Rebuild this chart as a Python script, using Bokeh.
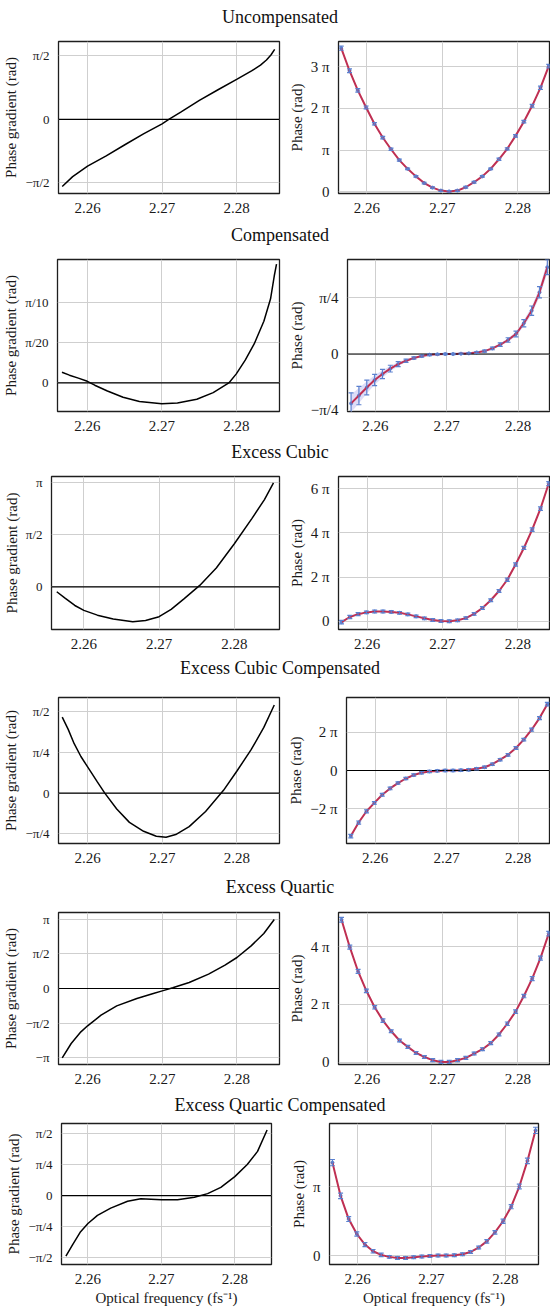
from bokeh.plotting import figure
from bokeh.models import Range1d, FixedTicker, Span, Whisker, TeeHead, ColumnDataSource, Div
from bokeh.layouts import column, row
from bokeh.embed import file_html
from bokeh.resources import INLINE

FONT = "Liberation Serif"
RED = "#bf2f52"
BLUE = "#5b80cf"
BAND = "#d9d9f6"
GRID = "#cfcfcf"

titles = ["Uncompensated", "Compensated", "Excess Cubic",
          "Excess Cubic Compensated", "Excess Quartic", "Excess Quartic Compensated"]

x_ticks = [2.26, 2.27, 2.28]
x_tick_labels = ["2.26", "2.27", "2.28"]

# measured frequencies (fs^-1) of the phase points
freq = [2.2566, 2.2577, 2.2588, 2.2599, 2.2610, 2.2621, 2.2632, 2.2643, 2.2654,
        2.2665, 2.2676, 2.2687, 2.2698, 2.2709, 2.2720, 2.2731, 2.2742, 2.2753,
        2.2764, 2.2775, 2.2786, 2.2797, 2.2808, 2.2819, 2.2830, 2.2841]

# ---- phase gradient curves (units of pi rad) ----
unc_grad_x = [2.2566, 2.2580, 2.2600, 2.2625, 2.2650, 2.2675, 2.2700, 2.2709, 2.2725,
              2.2750, 2.2775, 2.2800, 2.2820, 2.2832, 2.2840, 2.2846, 2.2851]
unc_grad_y = [-0.528, -0.450, -0.368, -0.287, -0.199, -0.113, -0.034, 0.0, 0.058,
              0.150, 0.234, 0.315, 0.382, 0.428, 0.468, 0.508, 0.552]

comp_grad_x = [2.2566, 2.2576, 2.2588, 2.2600, 2.2610, 2.2627, 2.2648, 2.2670, 2.2700,
               2.2721, 2.2747, 2.2769, 2.2790, 2.2800, 2.2812, 2.2824, 2.2837, 2.2846,
               2.2851, 2.2854]
comp_grad_y = [0.0133, 0.0096, 0.0060, 0.0020, -0.0028, -0.0100, -0.0177, -0.0229, -0.0257,
               -0.0249, -0.0201, -0.0120, 0.0, 0.0112, 0.0281, 0.0482, 0.0763, 0.104,
               0.1325, 0.147]

cubic_grad_x = [2.2564, 2.2575, 2.2588, 2.2600, 2.2618, 2.2639, 2.2665, 2.2682, 2.2700,
                2.2716, 2.2733, 2.2754, 2.2776, 2.2800, 2.2823, 2.2840, 2.2852]
cubic_grad_y = [-0.046, -0.108, -0.178, -0.225, -0.271, -0.308, -0.335, -0.323, -0.286,
                -0.215, -0.114, 0.015, 0.182, 0.415, 0.655, 0.84, 1.0]

cubic_comp_grad_x = [2.2566, 2.2574, 2.2582, 2.2591, 2.2600, 2.2613, 2.2623, 2.2639, 2.2656,
                     2.2675, 2.2692, 2.2705, 2.2718, 2.2736, 2.2758, 2.2782, 2.2800, 2.2819,
                     2.2836, 2.2850]
cubic_comp_grad_y = [0.467, 0.392, 0.304, 0.225, 0.161, 0.069, 0.0, -0.098, -0.180,
                     -0.235, -0.265, -0.271, -0.255, -0.206, -0.113, 0.017, 0.136, 0.267,
                     0.404, 0.542]

quart_grad_x = [2.2566, 2.2578, 2.2591, 2.2600, 2.2618, 2.2639, 2.2666, 2.2688, 2.2700,
                2.2714, 2.2736, 2.2762, 2.2784, 2.2800, 2.2819, 2.2836, 2.2850]
quart_grad_y = [-1.0, -0.793, -0.625, -0.538, -0.385, -0.25, -0.144, -0.072, -0.034,
                0.01, 0.087, 0.207, 0.337, 0.447, 0.615, 0.793, 0.995]

quart_comp_grad_x = [2.2570, 2.2579, 2.2590, 2.2600, 2.2613, 2.2631, 2.2654, 2.2672, 2.2700,
                     2.2722, 2.2745, 2.2763, 2.2781, 2.2800, 2.2817, 2.2831, 2.2844]
quart_comp_grad_y = [-0.489, -0.397, -0.291, -0.225, -0.159, -0.101, -0.045, -0.026, -0.034,
                     -0.034, -0.013, 0.016, 0.066, 0.153, 0.251, 0.357, 0.529]

# ---- retrieved phase (units of pi rad) and error bars ----
unc_phase = [3.44, 2.90, 2.43, 2.02, 1.63, 1.30, 1.02, 0.76, 0.55, 0.37, 0.21, 0.10, 0.03,
             0.01, 0.03, 0.11, 0.23, 0.37, 0.55, 0.78, 1.03, 1.34, 1.68, 2.06, 2.49, 3.01]
unc_err = [0.05, 0.045, 0.04, 0.035, 0.03, 0.03, 0.025, 0.025, 0.02, 0.02, 0.02, 0.02, 0.02,
           0.02, 0.02, 0.02, 0.02, 0.02, 0.02, 0.025, 0.025, 0.03, 0.03, 0.035, 0.04, 0.04]

comp_phase = [-0.220, -0.185, -0.149, -0.116, -0.089, -0.065, -0.045, -0.030, -0.018, -0.009,
              -0.003, -0.001, 0.0, 0.0, 0.0015, 0.003, 0.007, 0.013, 0.025, 0.042, 0.0625,
              0.089, 0.137, 0.193, 0.275, 0.387]
comp_err = [0.047, 0.041, 0.033, 0.025, 0.021, 0.015, 0.011, 0.0075, 0.005, 0.0045, 0.004,
            0.003, 0.003, 0.003, 0.003, 0.003, 0.004, 0.0045, 0.006, 0.0075, 0.010, 0.013,
            0.016, 0.021, 0.025, 0.033]
comp_band = [0.040, 0.034, 0.027, 0.021, 0.017, 0.012, 0.009, 0.006, 0.004, 0.003, 0.002,
             0.002, 0.002, 0.002, 0.002, 0.002, 0.003, 0.004, 0.005, 0.006, 0.008, 0.010,
             0.013, 0.017, 0.021, 0.027]

cubic_phase = [-0.045, 0.19, 0.32, 0.40, 0.44, 0.44, 0.42, 0.38, 0.31, 0.22, 0.13, 0.055, 0.01,
               0.0, 0.04, 0.14, 0.33, 0.60, 0.95, 1.37, 1.88, 2.57, 3.32, 4.15, 5.10, 6.24]
cubic_err = [0.08, 0.07, 0.07, 0.06, 0.06, 0.06, 0.06, 0.06, 0.06, 0.06, 0.06, 0.06, 0.06,
             0.06, 0.06, 0.06, 0.06, 0.06, 0.06, 0.06, 0.07, 0.07, 0.07, 0.08, 0.08, 0.09]

cubic_comp_phase = [-3.44, -2.73, -2.14, -1.70, -1.27, -0.94, -0.66, -0.42, -0.24, -0.12,
                    -0.05, -0.02, 0.0, 0.0, 0.015, 0.035, 0.09, 0.17, 0.33, 0.57, 0.82, 1.18,
                    1.62, 2.14, 2.75, 3.48]
cubic_comp_err = [0.09, 0.08, 0.08, 0.07, 0.07, 0.07, 0.06, 0.06, 0.06, 0.06, 0.06, 0.06, 0.06,
                  0.06, 0.06, 0.06, 0.06, 0.06, 0.06, 0.06, 0.07, 0.07, 0.07, 0.08, 0.08, 0.09]

quart_phase = [4.93, 3.98, 3.14, 2.47, 1.90, 1.44, 1.07, 0.75, 0.53, 0.32, 0.18, 0.07, 0.01,
               0.01, 0.07, 0.15, 0.30, 0.45, 0.66, 0.96, 1.33, 1.75, 2.29, 2.89, 3.60, 4.45]
quart_err = [0.08, 0.07, 0.07, 0.06, 0.06, 0.06, 0.05, 0.05, 0.05, 0.05, 0.05, 0.05, 0.05,
             0.05, 0.05, 0.05, 0.05, 0.05, 0.05, 0.05, 0.06, 0.06, 0.06, 0.07, 0.07, 0.08]

quart_comp_phase = [1.345, 0.866, 0.531, 0.316, 0.163, 0.067, 0.014, -0.014, -0.029, -0.029,
                    -0.019, -0.010, 0.0, 0.005, 0.005, 0.010, 0.024, 0.057, 0.12, 0.21, 0.34,
                    0.50, 0.71, 1.00, 1.37, 1.81]
quart_comp_err = [0.045, 0.04, 0.035, 0.03, 0.03, 0.025, 0.025, 0.02, 0.02, 0.02, 0.02, 0.02,
                  0.02, 0.02, 0.02, 0.02, 0.02, 0.02, 0.02, 0.025, 0.025, 0.03, 0.03, 0.035,
                  0.04, 0.045]

# layout: borders are (left, right, top, bottom) in px
rows_cfg = [
    dict(gx=unc_grad_x, gy=unc_grad_y, gxr=(2.2561, 2.28575), gyr=(-0.583, 0.614),
         gyt=[-0.5, 0, 0.5], gyl=["−π/2", "0", "π/2"],
         py=unc_phase, pe=unc_err, band=None, pxr=(2.25624, 2.2842), pyr=(-0.04, 3.60),
         pyt=[0, 1, 2, 3], pyl=["0", "π", "2 π", "3 π"], pzero=False,
         h=198, Lb=(53, 6, 14, 32), Rb=(41, 1, 13, 32)),
    dict(gx=comp_grad_x, gy=comp_grad_y, gxr=(2.2560, 2.2858), gyr=(-0.0353, 0.1526),
         gyt=[0, 0.05, 0.1], gyl=["0", "π/20", "π/10"],
         py=comp_phase, pe=comp_err, band=comp_band, pxr=(2.2561, 2.2844), pyr=(-0.256, 0.421),
         pyt=[-0.25, 0, 0.25], pyl=["−π/4", "0", "π/4"], pzero=True,
         h=197, Lb=(48, 6, 12, 29), Rb=(43, 1, 14, 31)),
    dict(gx=cubic_grad_x, gy=cubic_grad_y, gxr=(2.2557, 2.2860), gyr=(-0.409, 1.062),
         gyt=[0, 0.5, 1], gyl=["0", "π/2", "π"],
         py=cubic_phase, pe=cubic_err, band=None, pxr=(2.2562, 2.2842), pyr=(-0.376, 6.56),
         pyt=[0, 2, 4, 6], pyl=["0", "2 π", "4 π", "6 π"], pzero=False,
         h=196, Lb=(43, 6, 11, 25), Rb=(41, 1, 14, 29)),
    dict(gx=cubic_comp_grad_x, gy=cubic_comp_grad_y, gxr=(2.2561, 2.2857), gyr=(-0.31, 0.588),
         gyt=[-0.25, 0, 0.25, 0.5], gyl=["−π/4", "0", "π/4", "π/2"],
         py=cubic_comp_phase, pe=cubic_comp_err, band=None, pxr=(2.2560, 2.2844), pyr=(-3.83, 3.83),
         pyt=[-2, 0, 2], pyl=["−2 π", "0", "2 π"], pzero=True,
         h=199, Lb=(53, 6, 15, 31), Rb=(51, 1, 19, 34)),
    dict(gx=quart_grad_x, gy=quart_grad_y, gxr=(2.2561, 2.2857), gyr=(-1.096, 1.096),
         gyt=[-1, -0.5, 0, 0.5, 1], gyl=["−π", "−π/2", "0", "π/2", "π"],
         py=quart_phase, pe=quart_err, band=None, pxr=(2.2562, 2.2842), pyr=(-0.08, 5.18),
         pyt=[0, 2, 4], pyl=["0", "2 π", "4 π"], pzero=False,
         h=198, Lb=(53, 6, 15, 31), Rb=(41, 1, 14, 31)),
    dict(gx=quart_comp_grad_x, gy=quart_comp_grad_y, gxr=(2.2564, 2.2850), gyr=(-0.556, 0.582),
         gyt=[-0.5, -0.25, 0, 0.25, 0.5], gyl=["−π/2", "−π/4", "0", "π/4", "π/2"],
         py=quart_comp_phase, pe=quart_comp_err, band=None, pxr=(2.2562, 2.2845), pyr=(-0.124, 1.909),
         pyt=[0, 1], pyl=["0", "π"], pzero=False,
         h=193, Lb=(61, 14, 8, 41), Rb=(44, 12, 8, 43)),
]

LEFT_W = 285
RIGHT_W = 265


def make_fig(width, height, borders, xr, yr, yt, yl, ylab, xlab):
    bl, br, bt, bb = borders
    p = figure(width=width, height=height, x_range=Range1d(*xr), y_range=Range1d(*yr),
               toolbar_location=None, output_backend="svg",
               min_border_left=bl, min_border_right=br, min_border_top=bt, min_border_bottom=bb)
    p.outline_line_color = "#1e1e1e"
    p.outline_line_width = 1.3
    p.background_fill_color = "white"
    p.border_fill_color = "white"
    xt = FixedTicker(ticks=x_ticks)
    ytk = FixedTicker(ticks=yt)
    p.xaxis.ticker = xt
    p.yaxis.ticker = ytk
    p.xgrid.ticker = xt
    p.ygrid.ticker = ytk
    p.xaxis.major_label_overrides = {t: s for t, s in zip(x_ticks, x_tick_labels)}
    p.yaxis.major_label_overrides = {t: s for t, s in zip(yt, yl)}
    for ax in (p.xaxis[0], p.yaxis[0]):
        ax.axis_line_color = None
        ax.major_tick_line_color = None
        ax.minor_tick_line_color = None
        ax.major_label_text_font = FONT
        ax.major_label_text_font_size = "15px"
        ax.major_label_text_color = "#1a1a1a"
        ax.major_label_standoff = 3
        ax.axis_label_text_font = FONT
        ax.axis_label_text_font_size = "15px"
        ax.axis_label_text_font_style = "normal"
        ax.axis_label_text_color = "#1a1a1a"
        ax.axis_label_standoff = 3
    p.yaxis.axis_label = ylab
    if xlab:
        p.xaxis.axis_label = xlab
    p.xgrid.grid_line_color = GRID
    p.ygrid.grid_line_color = GRID
    return p


blocks = []
for i, c in enumerate(rows_cfg):
    last = i == len(rows_cfg) - 1
    xlab = "Optical frequency (fs⁻¹)" if last else None
    top_pad = 7 if i == 0 else 0
    t = Div(text=('<div style="width:526px;margin-left:17px;margin-top:%dpx;text-align:center;'
                  "font-family:'Liberation Serif';font-size:18px;line-height:20px;"
                  'color:#111;white-space:nowrap">' % top_pad) + titles[i] + '</div>',
            width=550, height=20 + top_pad, margin=(0, 0, 0, 0))

    pl = make_fig(LEFT_W, c["h"], c["Lb"], c["gxr"], c["gyr"], c["gyt"], c["gyl"],
                  "Phase gradient (rad)", xlab)
    pl.yaxis.major_label_text_font_size = "13px"
    pl.add_layout(Span(location=0, dimension="width", line_color="black", line_width=1.2,
                       level="glyph"))
    pl.line(c["gx"], c["gy"], line_color="black", line_width=1.5)

    pr = make_fig(RIGHT_W, c["h"], c["Rb"], c["pxr"], c["pyr"], c["pyt"], c["pyl"],
                  "Phase (rad)", xlab)
    if c["band"] is not None:
        lo_b = [v - b for v, b in zip(c["py"], c["band"])]
        hi_b = [v + b for v, b in zip(c["py"], c["band"])]
        pr.varea(x=freq, y1=lo_b, y2=hi_b, fill_color=BAND, fill_alpha=0.9)
    if c["pzero"]:
        pr.add_layout(Span(location=0, dimension="width", line_color="black", line_width=1.2,
                           level="glyph"))
    src = ColumnDataSource(dict(
        x=freq, y=c["py"],
        lo=[v - e for v, e in zip(c["py"], c["pe"])],
        hi=[v + e for v, e in zip(c["py"], c["pe"])]))
    w = Whisker(source=src, base="x", lower="lo", upper="hi", line_color=BLUE, line_width=1.2,
                lower_head=TeeHead(size=5, line_color=BLUE, line_width=1.2),
                upper_head=TeeHead(size=5, line_color=BLUE, line_width=1.2), level="glyph")
    pr.add_layout(w)
    pr.scatter("x", "y", source=src, size=3, color=BLUE)
    pr.line("x", "y", source=src, line_color=RED, line_width=2)

    blocks.append(t)
    blocks.append(row(pl, pr, spacing=0))

layout = column(*blocks, spacing=0)

open("out.html", "w").write(file_html(layout, INLINE))
